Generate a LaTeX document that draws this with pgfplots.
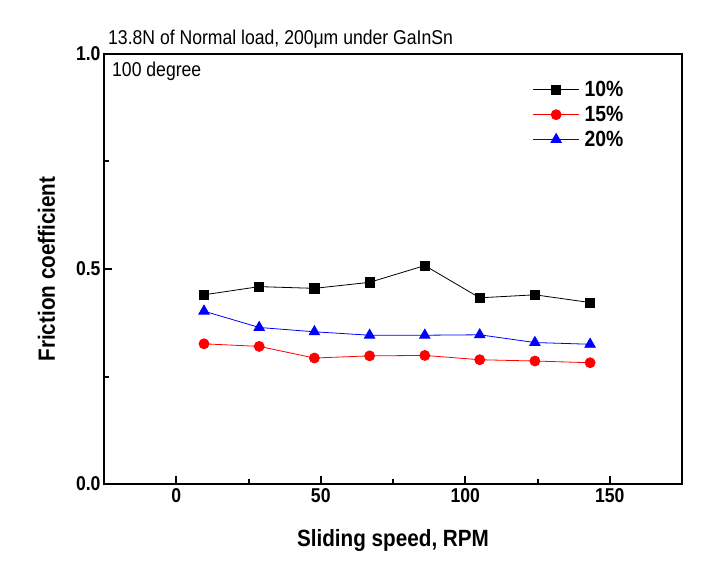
\documentclass[border=0pt]{standalone}
\usepackage{pgfplots}
\pgfplotsset{compat=1.18}
\usepackage{fontspec}
\setmainfont{Liberation Sans}[FakeStretch=0.88]
\begin{document}
\begin{tikzpicture}
\path[use as bounding box] (-104pt,-92pt) rectangle (618pt,484pt);
\begin{axis}[
  scale only axis, clip=false,
  width=578pt, height=430pt,
  xmin=-25, xmax=175, ymin=0, ymax=1,
  xtick={0,50,100,150}, ytick={0,0.5,1},
  minor x tick num=1, minor y tick num=1,
  xtick pos=bottom, ytick pos=left,
  tick align=inside,
  major tick length=8pt, minor tick length=5pt,
  axis line style={line width=2.2pt},
  every tick/.style={line width=2pt, black},
  /pgf/number format/assume math mode=true,
  ticklabel style={font=\bfseries\fontsize{20}{20}\selectfont},
  yticklabel style={/pgf/number format/.cd, fixed, fixed zerofill, precision=1},
  xticklabel style={yshift=-1pt},
  xlabel={Sliding speed, RPM},
  ylabel={Friction coefficient},
  label style={font=\bfseries\fontsize{23.5}{23.5}\selectfont},
  xlabel style={yshift=-20pt},
  ylabel style={yshift=14pt},
  legend style={draw=none, fill=none, at={(rel axis cs:0.738,0.946)}, anchor=north west,
    font=\bfseries\fontsize{22}{22}\selectfont, row sep=4pt, inner sep=2pt,
    nodes={inner xsep=5pt}},
  legend cell align=left,
  legend image code/.code={\draw[mark repeat=2,mark phase=2] plot coordinates {(0pt,0pt) (23pt,0pt) (46pt,0pt)};},
]
\addplot[black, line width=0.8pt, mark=square*, mark size=4.6pt, mark options={solid}] coordinates {
(9.6,0.440) (28.7,0.459) (47.8,0.455) (66.9,0.469) (86.0,0.508) (105.0,0.433) (124.1,0.440) (143.2,0.422)};
\addlegendentry{10\%}
\addplot[red, line width=0.8pt, mark=*, mark size=5pt] coordinates {
(9.6,0.326) (28.7,0.320) (47.8,0.293) (66.9,0.298) (86.0,0.299) (105.0,0.289) (124.1,0.286) (143.2,0.282)};
\addlegendentry{15\%}
\addplot[blue, line width=0.8pt, mark=triangle*, mark size=6pt] coordinates {
(9.6,0.402) (28.7,0.364) (47.8,0.354) (66.9,0.346) (86.0,0.346) (105.0,0.347) (124.1,0.329) (143.2,0.325)};
\addlegendentry{20\%}
\node[anchor=base west, inner sep=0, font=\fontsize{20}{20}\selectfont] at (rel axis cs:0,1) [xshift=4pt, yshift=9pt] {13.8N of Normal load, 200μm under GaInSn};
\node[anchor=base west, inner sep=0, font=\fontsize{20}{20}\selectfont] at (rel axis cs:0,1) [xshift=8pt, yshift=-23pt] {100 degree};
\end{axis}
\end{tikzpicture}
\end{document}
